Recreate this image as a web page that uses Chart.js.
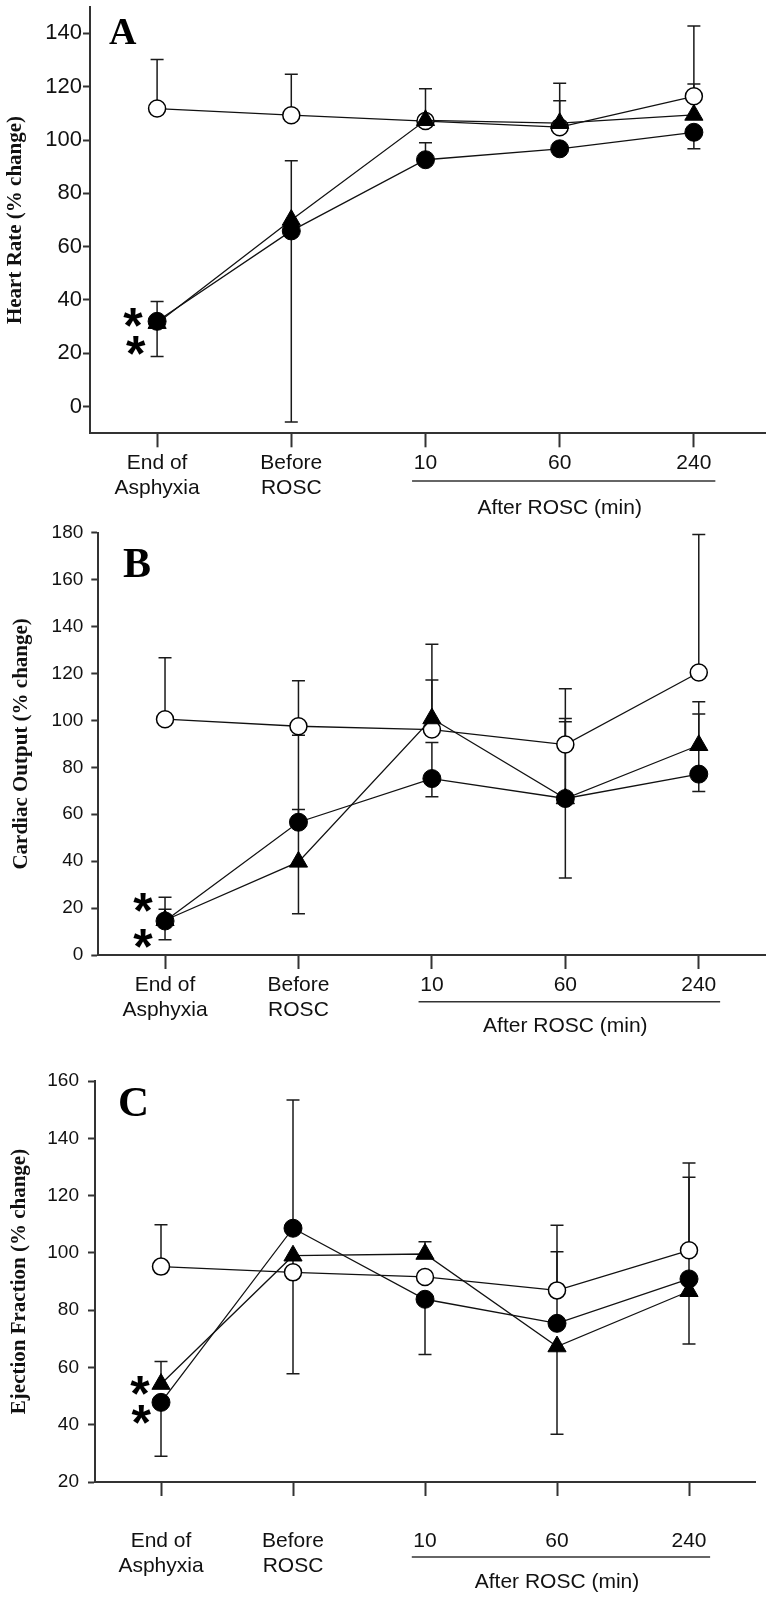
<!DOCTYPE html>
<html>
<head>
<meta charset="utf-8">
<script src="https://cdn.jsdelivr.net/npm/chart.js@4.4.0/dist/chart.umd.min.js"></script>
<style>
  html, body { margin: 0; padding: 0; background: #fff; }
  body { position: relative; width: 777px; height: 1599px; overflow: hidden; }
  canvas { position: absolute; left: 0; }
</style>
</head>
<body>
<canvas id="hrChart"></canvas>
<canvas id="coChart"></canvas>
<canvas id="efChart"></canvas>
<script>
// categories along x (index 0..4)
const xLabels = [['End of', 'Asphyxia'], ['Before', 'ROSC'], '10', '60', '240'];
const xIndex = [0, 1, 2, 3, 4];
const afterLabel = 'After ROSC (min)';
const afterSpan = [1.9, 4.16];

// A - heart rate
const hrTicks = [0, 20, 40, 60, 80, 100, 120, 140];
const hrOpen = [111.8, 109.3, 107.1, 104.8, 116.4];
const hrTriangle = [31.3, 70.0, 107.4, 106.3, 109.4];
const hrFilled = [32.0, 65.9, 92.6, 96.7, 102.9];
const hrOpenHi = [130.2, 124.7, 119.2, 121.3, 142.8];
const hrTriangleHi = [39.4, 92.2, null, 114.7, 121.0];
const hrFilledHi = [null, null, 99.0, null, null];
const hrFilledLo = [18.8, -5.8, null, null, 96.7];
const hrStars = [[-0.18, 34.4], [-0.16, 23.9]];

// B - cardiac output
const coTicks = [0, 20, 40, 60, 80, 100, 120, 140, 160, 180];
const coOpen = [100.5, 97.5, 96.1, 89.7, 120.4];
const coTriangle = [14.8, 39.7, 100.8, 66.7, 89.4];
const coFilled = [14.5, 56.6, 75.2, 66.7, 77.1];
const coOpenHi = [126.7, 116.9, 117.2, 113.5, 179.2];
const coTriangleHi = [24.6, 62.0, 132.5, 100.8, 107.9];
const coTriangleLo = [6.5, 17.6, null, 32.8, null];
const coFilledHi = [19.5, 93.7, 90.6, 99.4, 102.7];
const coFilledLo = [null, null, 67.4, null, 69.7];
const coStars = [[-0.165, 23.4], [-0.165, 8.1]];

// C - ejection fraction
const efTicks = [20, 40, 60, 80, 100, 120, 140, 160];
const efOpen = [95.2, 93.2, 91.6, 86.9, 100.9];
const efTriangle = [54.2, 99.0, 99.6, 67.3, 86.6];
const efFilled = [47.8, 108.6, 83.8, 75.4, 90.9];
const efOpenHi = [109.8, null, null, 109.6, 131.4];
const efTriangleHi = [62.1, null, 103.9, null, null];
const efTriangleLo = [null, 57.8, null, 36.7, 68.2];
const efFilledHi = [null, 153.4, null, 100.4, 126.4];
const efFilledLo = [29.0, null, 64.5, null, null];
const efStars = [[-0.16, 54.6], [-0.15, 44.4]];

const SANS = "'Liberation Sans', Arial, sans-serif";
const SERIF = "'Liberation Serif', 'Times New Roman', serif";
const INK = '#111';
const AXIS = '#333';

function pts(vals) {
  return vals.map((v, i) => ({ x: xIndex[i], y: v }));
}

function drawPanel(id, p) {
  const canvas = document.getElementById(id);
  const h = p.canvasBottom - p.canvasTop;
  canvas.width = 777;
  canvas.height = h;
  canvas.style.top = p.canvasTop + 'px';
  canvas.style.width = '777px';
  canvas.style.height = h + 'px';

  const lineBase = { borderColor: INK, borderWidth: 1.3, fill: false, tension: 0, clip: false };

  const decor = {
    id: 'decor' + id,
    beforeDatasetsDraw(chart) {
      const ctx = chart.ctx, xs = chart.scales.x, ys = chart.scales.y;
      ctx.save();
      ctx.strokeStyle = '#1a1a1a';
      ctx.lineWidth = 1.5;
      p.errors.forEach(e => {
        e.ends.forEach((end, i) => {
          if (end === null) return;
          const px = xs.getPixelForValue(xIndex[i]);
          const y0 = ys.getPixelForValue(e.mean[i]);
          const y1 = ys.getPixelForValue(end);
          ctx.beginPath();
          ctx.moveTo(px, y0); ctx.lineTo(px, y1);
          ctx.moveTo(px - 6.5, y1); ctx.lineTo(px + 6.5, y1);
          ctx.stroke();
        });
      });
      ctx.restore();
    },
    afterDraw(chart) {
      const ctx = chart.ctx, xs = chart.scales.x, ys = chart.scales.y, area = chart.chartArea;
      ctx.save();
      // significance stars
      ctx.fillStyle = '#000';
      ctx.font = 'bold 50px ' + SANS;
      ctx.textAlign = 'center';
      ctx.textBaseline = 'alphabetic';
      p.stars.forEach(s => {
        ctx.fillText('*', xs.getPixelForValue(s[0]), ys.getPixelForValue(s[1]) + 28);
      });
      // panel letter
      ctx.textAlign = 'left';
      ctx.font = 'bold ' + p.letterSize + 'px ' + SERIF;
      ctx.fillText(p.letter, area.left + p.letterDx, area.top + p.letterDy);
      // after ROSC bracket
      const x0 = xs.getPixelForValue(afterSpan[0]);
      const x1 = xs.getPixelForValue(afterSpan[1]);
      const yl = area.bottom + p.spanDy;
      ctx.strokeStyle = AXIS;
      ctx.lineWidth = 1.5;
      ctx.beginPath();
      ctx.moveTo(x0, yl); ctx.lineTo(x1, yl);
      ctx.stroke();
      ctx.fillStyle = INK;
      ctx.font = '21px ' + SANS;
      ctx.textAlign = 'center';
      ctx.textBaseline = 'middle';
      ctx.fillText(afterLabel, xs.getPixelForValue(xIndex[3]), area.bottom + p.labelDy);
      ctx.restore();
    }
  };

  new Chart(canvas.getContext('2d'), {
    type: 'line',
    data: {
      datasets: [
        Object.assign({}, lineBase, {
          data: pts(p.open), order: 3,
          pointStyle: 'circle', pointRadius: 8.5, pointHoverRadius: 8.5,
          pointBackgroundColor: '#fff', pointBorderColor: '#000', pointBorderWidth: 1.5
        }),
        Object.assign({}, lineBase, {
          data: pts(p.triangle), order: 2,
          pointStyle: 'triangle', pointRadius: 10.5, pointHoverRadius: 10.5,
          pointBackgroundColor: '#000', pointBorderColor: '#000', pointBorderWidth: 1
        }),
        Object.assign({}, lineBase, {
          data: pts(p.filled), order: 1,
          pointStyle: 'circle', pointRadius: 9, pointHoverRadius: 9,
          pointBackgroundColor: '#000', pointBorderColor: '#000', pointBorderWidth: 1
        })
      ]
    },
    options: {
      responsive: false,
      animation: false,
      devicePixelRatio: 1,
      events: [],
      layout: { padding: { top: p.top - p.canvasTop, right: 777 - p.right, left: 0, bottom: 0 } },
      plugins: { legend: { display: false }, tooltip: { enabled: false } },
      scales: {
        x: {
          type: 'linear',
          min: -0.5,
          max: p.xMax,
          afterBuildTicks: s => { s.ticks = xIndex.map(v => ({ value: v })); },
          afterFit: s => { s.height = p.canvasBottom - p.bottom; },
          grid: { drawOnChartArea: false, drawTicks: true, tickLength: 14, tickWidth: 2, tickColor: AXIS },
          border: { display: true, color: AXIS, width: 2 },
          ticks: {
            autoSkip: false, maxRotation: 0, minRotation: 0,
            padding: p.xPad, color: INK,
            font: { family: SANS, size: 21, lineHeight: 1.18 },
            callback: v => xLabels[v]
          }
        },
        y: {
          type: 'linear',
          min: p.yMin,
          max: p.yMax,
          afterBuildTicks: s => { s.ticks = p.ticks.map(v => ({ value: v })); },
          afterFit: s => { s.width = p.left; },
          grid: { drawOnChartArea: false, drawTicks: true, tickLength: 7, tickWidth: 2, tickColor: AXIS },
          border: { display: true, color: AXIS, width: 2 },
          ticks: { padding: p.yPad, color: INK, font: { family: SANS, size: p.yFont } },
          title: {
            display: true, text: p.yTitle, color: INK,
            font: { family: SERIF, size: 21, weight: 'bold' },
            padding: { top: p.titlePad, bottom: 0 }
          }
        }
      }
    },
    plugins: [decor]
  });
}

drawPanel('hrChart', {
  canvasTop: -30, canvasBottom: 527, top: 6.7, bottom: 433.3, left: 90, right: 765, xMax: 4.53,
  yMin: -10, yMax: 150, ticks: hrTicks, yFont: 22, yPad: 1, xPad: 3.5, titlePad: 3,
  yTitle: 'Heart Rate (% change)', letter: 'A', letterSize: 38, letterDx: 19, letterDy: 37,
  spanDy: 47.7, labelDy: 75.3,
  open: hrOpen, triangle: hrTriangle, filled: hrFilled, stars: hrStars,
  errors: [
    { mean: hrOpen, ends: hrOpenHi },
    { mean: hrTriangle, ends: hrTriangleHi },
    { mean: hrFilled, ends: hrFilledHi },
    { mean: hrFilled, ends: hrFilledLo }
  ]
});

drawPanel('coChart', {
  canvasTop: 500, canvasBottom: 1046, top: 532.7, bottom: 955, left: 98.3, right: 777, xMax: 4.5,
  yMin: 0, yMax: 180, ticks: coTicks, yFont: 19, yPad: 8, xPad: 3.9, titlePad: 9,
  yTitle: 'Cardiac Output (% change)', letter: 'B', letterSize: 42, letterDx: 24.7, letterDy: 44.3,
  spanDy: 46.7, labelDy: 71.7,
  open: coOpen, triangle: coTriangle, filled: coFilled, stars: coStars,
  errors: [
    { mean: coOpen, ends: coOpenHi },
    { mean: coTriangle, ends: coTriangleHi },
    { mean: coTriangle, ends: coTriangleLo },
    { mean: coFilled, ends: coFilledHi },
    { mean: coFilled, ends: coFilledLo }
  ]
});

drawPanel('efChart', {
  canvasTop: 1040, canvasBottom: 1599, top: 1081, bottom: 1482, left: 95, right: 755, xMax: 4.5,
  yMin: 20, yMax: 160, ticks: efTicks, yFont: 19, yPad: 9, xPad: 32.6, titlePad: 7,
  yTitle: 'Ejection Fraction (% change)', letter: 'C', letterSize: 43, letterDx: 23, letterDy: 35,
  spanDy: 75, labelDy: 100,
  open: efOpen, triangle: efTriangle, filled: efFilled, stars: efStars,
  errors: [
    { mean: efOpen, ends: efOpenHi },
    { mean: efTriangle, ends: efTriangleHi },
    { mean: efTriangle, ends: efTriangleLo },
    { mean: efFilled, ends: efFilledHi },
    { mean: efFilled, ends: efFilledLo }
  ]
});
</script>
</body>
</html>
